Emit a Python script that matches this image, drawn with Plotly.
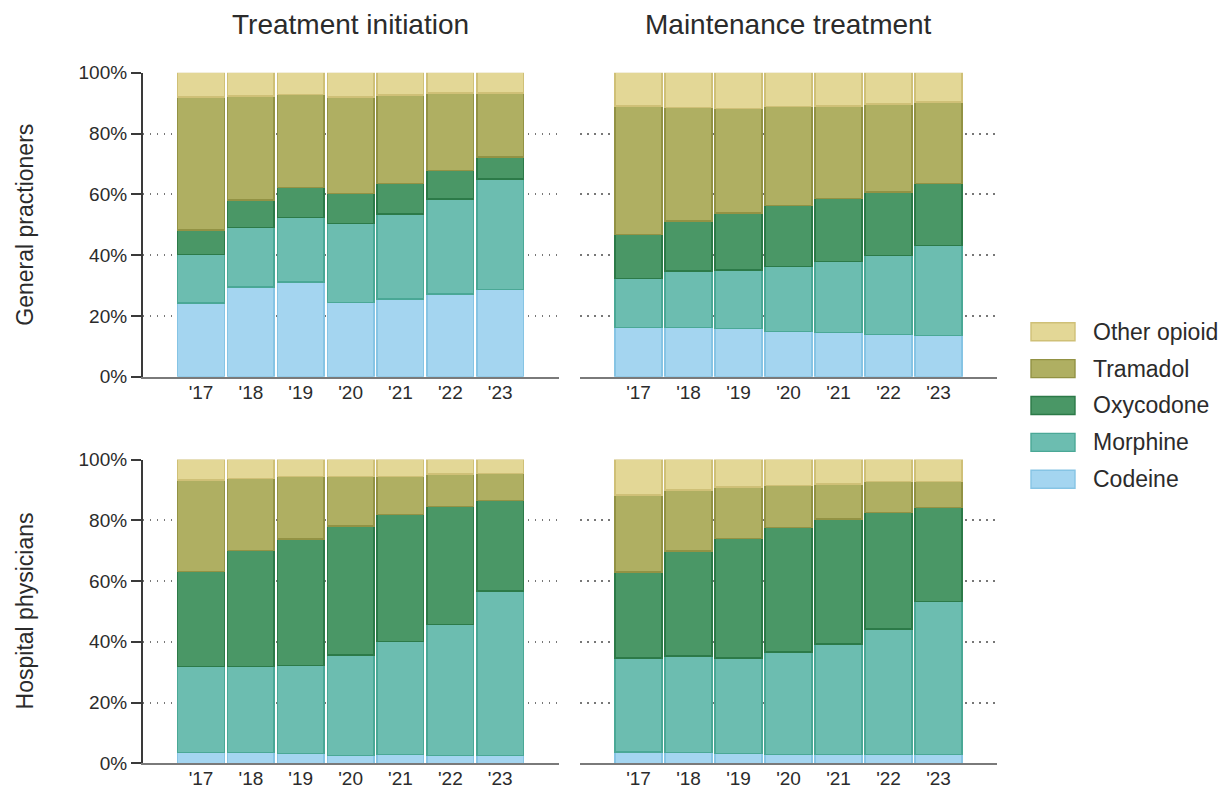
import plotly.graph_objects as go
from plotly.subplots import make_subplots

# Share of prescriptions (%) per opioid, 2017-2023
years = ["'17", "'18", "'19", "'20", "'21", "'22", "'23"]
drugs = ["Codeine", "Morphine", "Oxycodone", "Tramadol", "Other opioid"]

# General practitioners, treatment initiation
gp_init_codeine = [24.3, 29.5, 31.1, 24.4, 25.6, 27.2, 28.6]
gp_init_morphine = [15.9, 19.5, 21.2, 26.0, 27.9, 31.2, 36.5]
gp_init_oxycodone = [8.0, 9.1, 9.9, 9.9, 10.1, 9.4, 7.2]
gp_init_tramadol = [43.8, 34.3, 30.7, 31.7, 29.1, 25.5, 21.0]
gp_init_other = [8.0, 7.6, 7.1, 8.0, 7.3, 6.7, 6.7]

# General practitioners, maintenance treatment
gp_maint_codeine = [16.1, 16.1, 15.8, 14.8, 14.5, 13.9, 13.6]
gp_maint_morphine = [16.3, 18.7, 19.3, 21.4, 23.3, 25.9, 29.6]
gp_maint_oxycodone = [14.4, 16.4, 18.7, 20.2, 20.8, 21.0, 20.4]
gp_maint_tramadol = [42.3, 37.4, 34.5, 32.4, 30.5, 28.9, 26.7]
gp_maint_other = [10.9, 11.4, 11.7, 11.2, 10.9, 10.3, 9.7]

# Hospital physicians, treatment initiation
hp_init_codeine = [3.5, 3.5, 3.2, 2.5, 2.8, 2.6, 2.5]
hp_init_morphine = [28.3, 28.3, 28.9, 33.2, 37.3, 43.0, 54.2]
hp_init_oxycodone = [31.3, 38.2, 41.7, 42.4, 41.8, 38.9, 29.8]
hp_init_tramadol = [30.1, 23.7, 20.6, 16.3, 12.6, 10.7, 8.8]
hp_init_other = [6.8, 6.3, 5.6, 5.6, 5.5, 4.8, 4.7]

# Hospital physicians, maintenance treatment
hp_maint_codeine = [3.7, 3.5, 3.2, 2.8, 2.8, 2.8, 2.8]
hp_maint_morphine = [30.9, 31.8, 31.5, 33.8, 36.5, 41.4, 50.5]
hp_maint_oxycodone = [28.4, 34.6, 39.2, 41.0, 41.1, 38.4, 31.0]
hp_maint_tramadol = [25.3, 20.1, 17.0, 13.9, 11.6, 10.1, 8.4]
hp_maint_other = [11.7, 10.0, 9.1, 8.5, 8.0, 7.3, 7.3]

col_titles = ["Treatment initiation", "Maintenance treatment"]
row_titles = ["General practioners", "Hospital physicians"]
y_ticks = [0, 20, 40, 60, 80, 100]
y_tick_text = ["0%", "20%", "40%", "60%", "80%", "100%"]

fills = ["#a4d5f0", "#6cbdb0", "#4a9766", "#afaf62", "#e3d796"]
edges = ["#86c4e4", "#4aa896", "#2c7a48", "#929244", "#cfc077"]

panels = {
    (1, 1): [gp_init_codeine, gp_init_morphine, gp_init_oxycodone, gp_init_tramadol, gp_init_other],
    (1, 2): [gp_maint_codeine, gp_maint_morphine, gp_maint_oxycodone, gp_maint_tramadol, gp_maint_other],
    (2, 1): [hp_init_codeine, hp_init_morphine, hp_init_oxycodone, hp_init_tramadol, hp_init_other],
    (2, 2): [hp_maint_codeine, hp_maint_morphine, hp_maint_oxycodone, hp_maint_tramadol, hp_maint_other],
}

W, H = 1230, 790
FONT = "Arial, Liberation Sans, sans-serif"
TXT = "#2b2b2b"


def px(x):
    return x / W


def py(y):
    return 1 - y / H


fig = make_subplots(rows=2, cols=2)

for (r, c), series in panels.items():
    for i, vals in enumerate(series):
        fig.add_trace(
            go.Bar(
                x=years,
                y=vals,
                name=drugs[i],
                marker=dict(color=fills[i], line=dict(color=edges[i], width=1.4)),
                showlegend=False,
                hovertemplate="%{x}: %{y:.1f}%<extra>" + drugs[i] + "</extra>",
            ),
            row=r,
            col=c,
        )

x_domains = {1: [px(142.7), px(558.5)], 2: [px(580), px(997)]}
y_domains = {1: [py(376.7), py(72.7)], 2: [py(763.3), py(459.5)]}

grid_kw = dict(showgrid=True, gridcolor="#777777", gridwidth=1.7, griddash="1.7px,5.3px")

for r in (1, 2):
    for c in (1, 2):
        fig.update_xaxes(
            type="category",
            range=[-1.17, 7.17],
            domain=x_domains[c],
            showline=True,
            linecolor="#7a7a7a",
            linewidth=2,
            ticks="",
            showgrid=False,
            tickfont=dict(family=FONT, size=19, color=TXT),
            ticklabelstandoff=-3,
            automargin=False,
            fixedrange=True,
            row=r,
            col=c,
        )
        fig.update_yaxes(
            range=[0, 100],
            domain=y_domains[r],
            tickmode="array",
            tickvals=y_ticks,
            ticktext=y_tick_text,
            zeroline=False,
            automargin=False,
            fixedrange=True,
            tickfont=dict(family=FONT, size=19, color=TXT),
            row=r,
            col=c,
            **grid_kw,
        )
        if c == 1:
            fig.update_yaxes(
                showline=True,
                linecolor="#3a3a3a",
                linewidth=1.5,
                ticks="outside",
                ticklen=10,
                tickwidth=1.5,
                tickcolor="#3a3a3a",
                showticklabels=True,
                row=r,
                col=c,
            )
        else:
            fig.update_yaxes(showline=False, ticks="", showticklabels=False, row=r, col=c)

annotations = []
for c, t in zip((1, 2), col_titles):
    annotations.append(
        dict(
            text=t, x=(x_domains[c][0] + x_domains[c][1]) / 2, y=py(24),
            xref="paper", yref="paper", xanchor="center", yanchor="middle",
            showarrow=False, font=dict(family=FONT, size=28, color=TXT),
        )
    )
for r, t in zip((1, 2), row_titles):
    annotations.append(
        dict(
            text=t, x=px(25), y=(y_domains[r][0] + y_domains[r][1]) / 2,
            xref="paper", yref="paper", xanchor="center", yanchor="middle",
            textangle=-90, showarrow=False, font=dict(family=FONT, size=23, color=TXT),
        )
    )

# Legend: largest stack layer first
shapes = []
for k, i in enumerate(reversed(range(len(drugs)))):
    yc = 331.7 + k * 36.9
    shapes.append(
        dict(
            type="rect", xref="paper", yref="paper",
            x0=px(1031), x1=px(1075), y0=py(yc + 9), y1=py(yc - 9),
            fillcolor=fills[i], line=dict(color=edges[i], width=1.4),
        )
    )
    annotations.append(
        dict(
            text=drugs[i], x=px(1091), y=py(yc), xref="paper", yref="paper",
            xanchor="left", yanchor="middle", showarrow=False,
            font=dict(family=FONT, size=23, color=TXT),
        )
    )

fig.update_layout(
    width=W,
    height=H,
    barmode="stack",
    bargap=0.066,
    margin=dict(l=0, r=0, t=0, b=0),
    plot_bgcolor="white",
    paper_bgcolor="white",
    annotations=annotations,
    shapes=shapes,
    font=dict(family=FONT, color=TXT),
)

fig.write_html("out.html")
